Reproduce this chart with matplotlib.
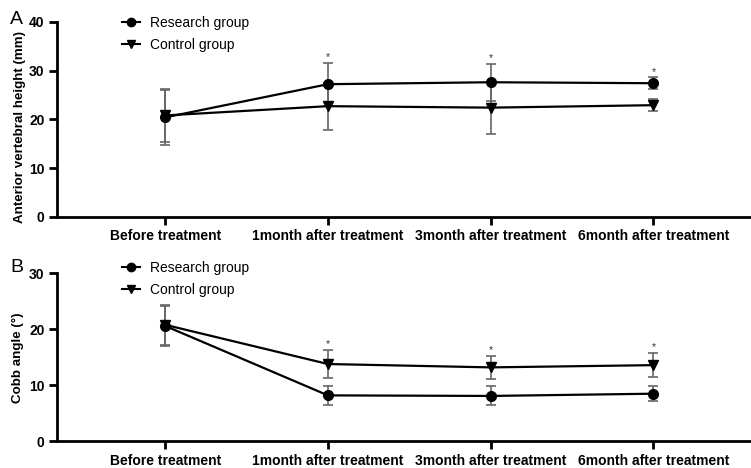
import numpy as np
import matplotlib.pyplot as plt
from matplotlib.lines import Line2D

plt.rcParams['font.family'] = ['Liberation Sans', 'DejaVu Sans']

stages = ["Before treatment", "1month after treatment",
          "3month after treatment", "6month after treatment"]

# anterior vertebral height (mm), mean and SD
height_research = [20.4, 27.2, 27.6, 27.4]
height_research_sd = [5.7, 4.4, 3.8, 1.2]
height_control = [20.8, 22.7, 22.4, 22.9]
height_control_sd = [5.4, 4.8, 5.3, 1.2]
height_star = [False, True, True, True]

# Cobb angle (degrees), mean and SD
cobb_research = [20.6, 8.2, 8.1, 8.5]
cobb_research_sd = [3.6, 1.7, 1.7, 1.3]
cobb_control = [20.8, 13.8, 13.2, 13.6]
cobb_control_sd = [3.6, 2.5, 2.0, 2.2]
cobb_star = [False, True, True, True]

W, H = 751, 468
fig = plt.figure(figsize=(W/100, H/100), dpi=100)
axA = fig.add_axes([57/W, 1-217/H, (W-57)/W, (217-21.7)/H])
axB = fig.add_axes([57/W, 1-441.3/H, (W-57)/W, (441.3-273.3)/H])

x = np.arange(len(stages))


def panel(ax, res, res_sd, ctl, ctl_sd, stars, ymax, ylabel, label_xy, letter, letter_y, leg_y):
    ax.errorbar(x, res, yerr=res_sd, color='black', marker='o', markersize=7,
                lw=1.6, ecolor='#666666', elinewidth=1.2, capsize=3.5, capthick=1.2,
                zorder=3)
    ax.errorbar(x, ctl, yerr=ctl_sd, color='black', marker='v', markersize=7,
                lw=1.6, ecolor='#666666', elinewidth=1.2, capsize=3.5, capthick=1.2,
                zorder=3)
    for i in range(len(x)):
        if stars[i]:
            top = max(res[i] + res_sd[i], ctl[i] + ctl_sd[i])
            ax.annotate('*', (x[i], top), xytext=(0, 0.5), textcoords='offset points',
                        ha='center', va='bottom', fontsize=7.5, color='#333333')
    ax.set_xlim(-0.665, 3.6)
    ax.set_ylim(0, ymax)
    ax.set_yticks(np.arange(0, ymax + 1, 10))
    ax.set_xticks(x)
    ax.set_xticklabels(stages)
    for s in ['top', 'right']:
        ax.spines[s].set_visible(False)
    for s in ['left', 'bottom']:
        ax.spines[s].set_linewidth(2)
    ax.tick_params(width=2, length=6, labelsize=10, pad=3)
    for lab in ax.get_xticklabels() + ax.get_yticklabels():
        lab.set_fontweight('bold')
    ax.set_ylabel(ylabel, fontsize=9.6, fontweight='bold')
    ax.yaxis.set_label_coords(*label_xy)
    fig.text(10/W, 1 - letter_y/H, letter, fontsize=14, ha='left', va='center')
    handles = [Line2D([], [], color='black', marker='o', markersize=6, lw=1.5),
               Line2D([], [], color='black', marker='v', markersize=6, lw=1.5)]
    ax.legend(handles, ["Research group", "Control group"], loc='upper left',
              bbox_to_anchor=(122/W, 1 - leg_y/H), bbox_transform=fig.transFigure,
              frameon=False, fontsize=10, handlelength=1.3, handletextpad=0.7,
              borderaxespad=0, borderpad=0, labelspacing=0.6)


panel(axA, height_research, height_research_sd, height_control, height_control_sd,
      height_star, 40, "Anterior vertebral height (mm)", (-0.045, 0.463),
      "A", 20, 16)
panel(axB, cobb_research, cobb_research_sd, cobb_control, cobb_control_sd,
      cobb_star, 30, "Cobb angle (°)", (-0.047, 0.5),
      "B", 268, 261)

fig.savefig("out.png", dpi=100)
